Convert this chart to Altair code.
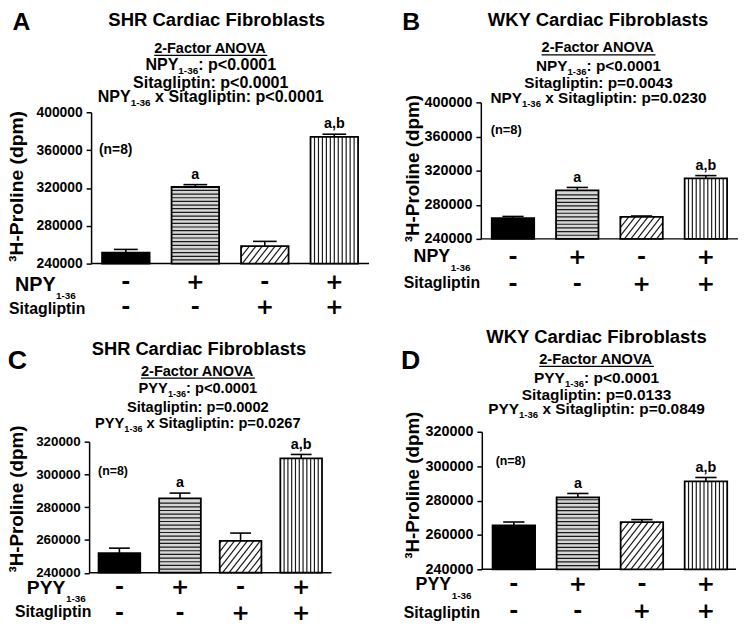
import math
import altair as alt
import pandas as pd

FONT = "Liberation Sans"
SIGN_FONT = "DejaVu Sans"

# ---------------- data ----------------
bar_index = [0, 1, 2, 3]
peptide_signs = ["-", "+", "-", "+"]
sitagliptin_signs = ["-", "-", "+", "+"]
sig_letters = ["", "a", "", "a,b"]
bar_fills = ["#000000", "#d6d6d6", "#ffffff", "#ffffff"]

shr_npy_mean = [251500, 321000, 258500, 374000]
shr_npy_sem = [3500, 2500, 5000, 2800]
wky_npy_mean = [264200, 296800, 265800, 311000]
wky_npy_sem = [2100, 3500, 1000, 3200]
shr_pyy_mean = [252000, 285400, 259400, 309800]
shr_pyy_sem = [3000, 3200, 4800, 2400]
wky_pyy_mean = [265500, 281800, 267400, 291100]
wky_pyy_sem = [2000, 2300, 1500, 2300]

y_ticks_npy = [240000, 280000, 320000, 360000, 400000]
y_ticks_pyy = [240000, 260000, 280000, 300000, 320000]

anova_a = [[("2-Factor ANOVA", False)],
           [("NPY", False), ("1-36", True), (": p<0.0001", False)],
           [("Sitagliptin: p<0.0001", False)],
           [("NPY", False), ("1-36", True), (" x Sitagliptin: p<0.0001", False)]]
anova_b = [[("2-Factor ANOVA", False)],
           [("NPY", False), ("1-36", True), (": p<0.0001", False)],
           [("Sitagliptin: p=0.0043", False)],
           [("NPY", False), ("1-36", True), (" x Sitagliptin: p=0.0230", False)]]
anova_c = [[("2-Factor ANOVA", False)],
           [("PYY", False), ("1-36", True), (": p<0.0001", False)],
           [("Sitagliptin: p=0.0002", False)],
           [("PYY", False), ("1-36", True), (" x Sitagliptin: p=0.0267", False)]]
anova_d = [[("2-Factor ANOVA", False)],
           [("PYY", False), ("1-36", True), (": p<0.0001", False)],
           [("Sitagliptin: p=0.0133", False)],
           [("PYY", False), ("1-36", True), (" x Sitagliptin: p=0.0849", False)]]

# ---------------- layout (page pixels) ----------------
PANELS = [
    dict(letter="A", title="SHR Cardiac Fibroblasts", factor="NPY", means=shr_npy_mean, sems=shr_npy_sem,
         ticks=y_ticks_npy, anova=anova_a, axis_x=92, right=373, top=110, bottom=263, xdom=(-0.5, 3.5),
         hw=0.342, letter_xy=(21.5, 27), letter_fs=25, title_xy=(219, 22.5), title_fs=18.7,
         anova_cx=213, anova_base=[50, 67.5, 85, 99.5], anova_fs=(14.6, 16.2), n_xy=(100, 148), n_fs=14,
         ytitle_xy=(17.5, 185), ytitle_fs=19.5, tick_fs=14, rows=(282, 307), lab_x=(15, 9),
         lab_y=(285, 309), lab_fs=20),
    dict(letter="B", title="WKY Cardiac Fibroblasts", factor="NPY", means=wky_npy_mean, sems=wky_npy_sem,
         ticks=y_ticks_npy, anova=anova_b, axis_x=486, right=746, top=100, bottom=238, xdom=(-0.5, 3.5),
         hw=0.33, letter_xy=(415.5, 27), letter_fs=25, title_xy=(604.5, 22.5), title_fs=18.7,
         anova_cx=605, anova_base=[49.4, 68.4, 85.9, 100.9], anova_fs=(14.7, 15.5), n_xy=(496, 128),
         n_fs=13, ytitle_xy=(418, 167), ytitle_fs=19, tick_fs=14.5, rows=(256, 284), lab_x=(418, 408),
         lab_y=(256, 283), lab_fs=18),
    dict(letter="C", title="SHR Cardiac Fibroblasts", factor="PYY", means=shr_pyy_mean, sems=shr_pyy_sem,
         ticks=y_ticks_pyy, anova=anova_c, axis_x=90, right=335, top=443, bottom=575.5, xdom=(-0.5, 3.5),
         hw=0.344, letter_xy=(17.5, 370), letter_fs=27, title_xy=(201, 355), title_fs=18.5,
         anova_cx=200, anova_base=[376.2, 394.2, 413.2, 429.2], anova_fs=(14.7, 14.8), n_xy=(99, 473),
         n_fs=12.5, ytitle_xy=(17.5, 501), ytitle_fs=19, tick_fs=13.5, rows=(590, 616), lab_x=(27, 15),
         lab_y=(591, 615), lab_fs=19.5),
    dict(letter="D", title="WKY Cardiac Fibroblasts", factor="PYY", means=wky_pyy_mean, sems=wky_pyy_sem,
         ticks=y_ticks_pyy, anova=anova_d, axis_x=487, right=744, top=433, bottom=572, xdom=(-0.5, 3.47),
         hw=0.332, letter_xy=(415, 370), letter_fs=27, title_xy=(603, 343), title_fs=18.7,
         anova_cx=603, anova_base=[364.4, 383.4, 400.9, 415.4], anova_fs=(14.8, 15.6), n_xy=(501, 463),
         n_fs=12.5, ytitle_xy=(417, 487), ytitle_fs=19, tick_fs=14.5, rows=(587, 614), lab_x=(420, 408),
         lab_y=(588, 616), lab_fs=18),
]
PAGE = 8  # page margin: plot coordinates = page coordinates - 8
CANVAS_W, CANVAS_H = 739, 623

# Arial Bold advance widths (1/1000 em), Liberation Sans is metric compatible
AW = {' ': 278, '!': 333, '(': 333, ')': 333, ',': 278, '-': 333, '.': 278, ':': 333, '<': 584, '=': 584,
      '>': 584, 'A': 722, 'B': 722, 'C': 722, 'D': 722, 'F': 611, 'H': 722, 'K': 722, 'N': 722, 'O': 778,
      'P': 667, 'R': 722, 'S': 667, 'V': 667, 'W': 944, 'Y': 667, 'a': 556, 'b': 611, 'c': 556, 'd': 611,
      'e': 556, 'g': 611, 'i': 278, 'l': 278, 'm': 889, 'n': 611, 'o': 611, 'p': 611, 'r': 389, 's': 556,
      't': 333, 'x': 556}
for _d in "0123456789":
    AW[_d] = 556


def tw(s, fs):
    return sum(AW.get(ch, 556) for ch in s) * fs / 1000.0


one = pd.DataFrame({"k": [0]})


def P(v):
    return v - PAGE


def text_layer(s, x, y, fs, align="center", baseline="middle", angle=None, font=FONT):
    kw = dict(text=s, align=align, baseline=baseline, fontSize=fs, fontWeight="bold", font=font, color="black")
    if angle:
        kw["angle"] = angle
    return alt.Chart(one).mark_text(**kw).encode(x=alt.value(P(x)), y=alt.value(P(y)))


def build(p):
    x0, x1 = p["xdom"]
    ticks = p["ticks"]
    y0, y1 = ticks[0], ticks[-1]
    px_l, px_r = P(p["axis_x"]), P(p["right"])
    py_t, py_b = P(p["top"]), P(p["bottom"])
    xs = (px_r - px_l) / (x1 - x0)
    ys = (py_b - py_t) / (y1 - y0)
    hw = p["hw"]

    xscale = alt.Scale(domain=[x0, x1], range=[px_l, px_r], nice=False, zero=False)
    yscale = alt.Scale(domain=[y0, y1], range=[py_b, py_t], nice=False, zero=False)
    yaxis = alt.Axis(orient="left", offset=-px_l, values=ticks, format="d", grid=False, title=None,
                     domainColor="black", domainWidth=1.5, tickColor="black", tickWidth=1.5, tickSize=5,
                     labelFont=FONT, labelFontSize=p["tick_fs"], labelFontWeight="bold", labelColor="black",
                     labelPadding=4)

    def X(f):
        return alt.X(f, type="quantitative", scale=xscale, axis=None)

    def Y(f):
        return alt.Y(f, type="quantitative", scale=yscale, axis=yaxis)

    df = pd.DataFrame({"idx": bar_index, "mean": p["means"], "sem": p["sems"], "fill": bar_fills,
                       "sig": sig_letters, "s1": peptide_signs, "s2": sitagliptin_signs})
    df["top"] = df["mean"] + df["sem"]
    df["xl"] = df["idx"] - hw
    df["xr"] = df["idx"] + hw
    df["cl"] = df["idx"] - hw * 0.5
    df["cr"] = df["idx"] + hw * 0.5
    df["base"] = y0

    # hatching decoration derived from the bars
    segs = []
    m = p["means"]
    hpx = (m[1] - y0) * ys
    k = 1
    while k * 3.7 < hpx - 1.5:
        yy = y0 + k * 3.7 / ys
        segs.append((1 - hw, 1 + hw, yy, yy))
        k += 1
    wpx = 2 * hw * xs
    n = max(2, int(round(wpx / 3.9)))
    for k in range(1, n):
        xx = 3 - hw + k * (2 * hw / n)
        segs.append((xx, xx, y0, m[3]))
    hpx = (m[2] - y0) * ys
    t = math.tan(math.radians(52))
    c = -hpx / t + 2.0
    while c < wpx:
        xa = max(0.0, c)
        xb = min(wpx, c + hpx / t)
        if xb > xa + 0.8:
            ya = (xa - c) * t
            yb = (xb - c) * t
            segs.append((2 - hw + xa / xs, 2 - hw + xb / xs, y0 + ya / ys, y0 + yb / ys))
        c += 6.5
    sdf = pd.DataFrame(segs, columns=["sx", "sx2", "sy", "sy2"])
    axdf = pd.DataFrame({"a": [x0], "b": [x1], "y": [y0]})

    base = alt.Chart(df)
    layers = [
        alt.Chart(axdf).mark_rule(color="black", strokeWidth=1.5).encode(x=X("a"), x2="b", y=Y("y")),
        base.mark_rect(strokeWidth=0).encode(
            x=X("xl"), x2="xr", y=Y("base"), y2="mean", color=alt.Color("fill:N", scale=None)),
        alt.Chart(sdf).mark_rule(color="#1a1a1a", strokeWidth=1.2).encode(
            x=X("sx"), x2="sx2", y=Y("sy"), y2="sy2"),
        base.mark_rect(fill="white", fillOpacity=0, stroke="black", strokeWidth=1.8).encode(
            x=X("xl"), x2="xr", y=Y("base"), y2="mean"),
        base.mark_rule(color="black", strokeWidth=1.6).encode(x=X("idx"), y=Y("mean"), y2="top"),
        base.mark_rule(color="black", strokeWidth=1.6).encode(x=X("cl"), x2="cr", y=Y("top")),
        base.mark_text(font=FONT, fontWeight="bold", fontSize=14.5, baseline="alphabetic", dy=-6,
                       color="black").encode(x=X("idx"), y=Y("top"), text="sig:N"),
    ]
    for r, col in zip(p["rows"], ["s1", "s2"]):
        layers.append(base.mark_text(font=SIGN_FONT, fontWeight="bold", fontSize=22, baseline="middle",
                                     color="black").encode(x=X("idx"), y=alt.value(P(r)), text=f"{col}:N"))
    panel = alt.layer(*layers)

    texts = []
    fx, sx_ = p["lab_x"]
    fy, sy_ = p["lab_y"]
    lfs = p["lab_fs"]
    texts.append(text_layer(p["factor"], fx, fy, lfs, align="left"))
    texts.append(text_layer("1-36", fx + tw(p["factor"], lfs) + 0.5, fy + 11, 10, align="left"))
    texts.append(text_layer("Sitagliptin", sx_, sy_, 16, align="left"))
    texts.append(text_layer(p["letter"], p["letter_xy"][0], p["letter_xy"][1], p["letter_fs"],
                            baseline="alphabetic"))
    texts.append(text_layer(p["title"], p["title_xy"][0], p["title_xy"][1], p["title_fs"],
                            baseline="alphabetic"))
    texts.append(text_layer("(n=8)", p["n_xy"][0], p["n_xy"][1], p["n_fs"], align="left"))
    texts.append(text_layer("\u00b3H-Proline (dpm)", p["ytitle_xy"][0], p["ytitle_xy"][1],
                            p["ytitle_fs"], angle=270))
    for i, line in enumerate(p["anova"]):
        fs = p["anova_fs"][0] if i == 0 else p["anova_fs"][1]
        widths = [tw(s, fs * (0.62 if sub else 1.0)) for s, sub in line]
        tot = sum(widths)
        xcur = p["anova_cx"] - tot / 2
        bl = p["anova_base"][i]
        for (s, sub), wd in zip(line, widths):
            pfs = fs * (0.62 if sub else 1.0)
            lead = len(s) - len(s.lstrip(" "))
            texts.append(text_layer(s.lstrip(" "), xcur + tw(" " * lead, pfs),
                                    bl + (0.25 * fs if sub else 0), pfs, align="left", baseline="alphabetic"))
            xcur += wd
        if i == 0:
            texts.append(alt.Chart(one).mark_rule(color="black", strokeWidth=1.3).encode(
                x=alt.value(P(p["anova_cx"] - tot / 2)), x2=alt.value(P(p["anova_cx"] + tot / 2)),
                y=alt.value(P(bl + 2.5))))
    return panel, texts


panels, all_texts = [], []
for p in PANELS:
    pl, tx = build(p)
    panels.append(pl)
    all_texts.extend(tx)

chart = alt.layer(*panels, *all_texts).resolve_scale(
    x="independent", y="independent"
).properties(
    width=CANVAS_W, height=CANVAS_H, padding=0, autosize=alt.AutoSizeParams(type="none")
).configure_view(stroke=None)

chart.save("out.html", embed_options={"renderer": "svg", "actions": False})
